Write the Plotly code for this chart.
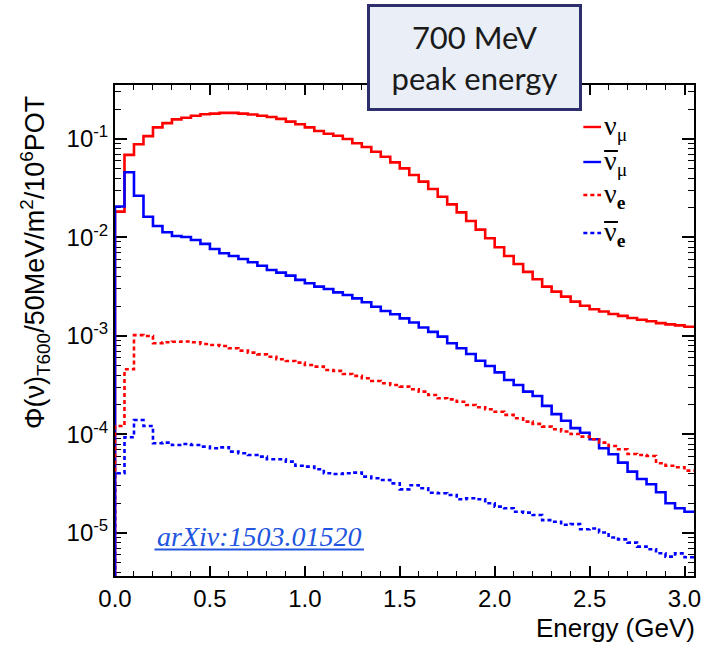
import numpy as np
import plotly.graph_objects as go

# ---------------- data (50 MeV bins, 0 - 3.05 GeV) ----------------
bin_width_gev = 0.05

nu_mu = [0.0183, 0.0689, 0.0883, 0.107, 0.131, 0.145, 0.158, 0.164, 0.172, 0.178,
         0.181, 0.184, 0.184, 0.181, 0.177, 0.172, 0.167, 0.160, 0.150, 0.141,
         0.131, 0.1205, 0.113, 0.108, 0.100, 0.0904, 0.0829, 0.0743, 0.0661, 0.0579,
         0.0503, 0.0431, 0.0369, 0.0311, 0.0259, 0.0217, 0.0180, 0.0147, 0.0120, 0.00982,
         0.00795, 0.00649, 0.00538, 0.00447, 0.00376, 0.00317, 0.00282, 0.00251, 0.00223, 0.00203,
         0.00187, 0.00177, 0.00167, 0.00160, 0.00152, 0.00146, 0.00141, 0.00135, 0.00131, 0.00128,
         0.00124]

anti_nu_mu = [0.0206, 0.0459, 0.0265, 0.01626, 0.01309, 0.01130, 0.01036, 0.01012, 0.00944, 0.00860,
              0.00764, 0.00691, 0.00649, 0.00605, 0.00560, 0.00517, 0.00468, 0.00440, 0.00410, 0.00371,
              0.00343, 0.00317, 0.00300, 0.00277, 0.00261, 0.00241, 0.00220, 0.00198, 0.00179, 0.00166,
              0.00151, 0.00137, 0.00122, 0.00110, 0.000984, 0.000843, 0.000750, 0.000656, 0.000561, 0.000496,
              0.000427, 0.000357, 0.000318, 0.000272, 0.000246, 0.000195, 0.000161, 0.000138, 0.000116, 0.000104,
              8.93e-5, 7.24e-5, 6.29e-5, 5.18e-5, 4.19e-5, 3.53e-5, 3.12e-5, 2.59e-5, 2.0e-5, 1.78e-5,
              1.64e-5]

nu_e = [1.22e-4, 4.59e-4, 1.02e-3, 1.0e-3, 8.43e-4, 8.63e-4, 8.75e-4, 8.8e-4, 8.63e-4, 8.3e-4,
        8.1e-4, 7.9e-4, 7.5e-4, 7.1e-4, 6.77e-4, 6.51e-4, 6.16e-4, 5.8e-4, 5.57e-4, 5.36e-4,
        5.08e-4, 4.88e-4, 4.52e-4, 4.42e-4, 4.11e-4, 3.93e-4, 3.72e-4, 3.49e-4, 3.31e-4, 3.18e-4,
        3.06e-4, 2.88e-4, 2.72e-4, 2.52e-4, 2.33e-4, 2.27e-4, 2.15e-4, 1.99e-4, 1.89e-4, 1.80e-4,
        1.70e-4, 1.58e-4, 1.46e-4, 1.35e-4, 1.28e-4, 1.20e-4, 1.13e-4, 1.07e-4, 1.01e-4, 9.5e-5,
        8.93e-5, 8.26e-5, 7.64e-5, 7.07e-5, 6.34e-5, 6.19e-5, 6.05e-5, 5.1e-5, 4.82e-5, 4.64e-5,
        4.29e-5]

anti_nu_e = [4.04e-5, 9.37e-5, 1.40e-4, 1.22e-4, 8.13e-5, 8.26e-5, 7.82e-5, 8.0e-5, 7.82e-5, 7.52e-5,
             7.24e-5, 7.4e-5, 6.69e-5, 6.44e-5, 6.19e-5, 5.95e-5, 5.6e-5, 5.6e-5, 5.3e-5, 4.82e-5,
             4.71e-5, 4.43e-5, 4.04e-5, 3.97e-5, 4.04e-5, 4.1e-5, 3.73e-5, 3.59e-5, 3.45e-5, 3.19e-5,
             2.77e-5, 3.05e-5, 2.84e-5, 2.56e-5, 2.53e-5, 2.43e-5, 2.2e-5, 2.25e-5, 2.2e-5, 2.0e-5,
             1.85e-5, 1.78e-5, 1.64e-5, 1.61e-5, 1.52e-5, 1.35e-5, 1.30e-5, 1.21e-5, 1.23e-5, 1.09e-5,
             1.11e-5, 1.01e-5, 9.0e-6, 8.6e-6, 7.97e-6, 7.27e-6, 6.83e-6, 6.22e-6, 5.75e-6, 6.2e-6,
             5.67e-6]

y_tick_vals = [1e-5, 1e-4, 1e-3, 1e-2, 1e-1]
y_tick_text = ["10<sup>-5</sup>", "10<sup>-4</sup>", "10<sup>-3</sup>", "10<sup>-2</sup>", "10<sup>-1</sup>"]

RED = "#ff0000"
BLUE = "#0000ff"

# ---------------- layout helpers (pixel -> paper) ----------------
W, H = 711, 645
L, R, T, B = 115, 10, 85, 69
PW, PH = W - L - R, H - T - B


def px(x):
    return (x - L) / PW


def py(y):
    return (H - B - y) / PH


edges = np.round(np.arange(len(nu_mu) + 1) * bin_width_gev, 4)
FLOOR = 1e-8


def hist_xy(vals):
    xs = [0.0] + list(edges)
    ys = [FLOOR] + list(vals) + [vals[-1]]
    return xs, ys


fig = go.Figure()
series = [
    (nu_mu, RED, "solid"),
    (anti_nu_mu, BLUE, "solid"),
    (nu_e, RED, "4px,3px"),
    (anti_nu_e, BLUE, "4px,3px"),
]
for vals, col, dash in series:
    xs, ys = hist_xy(vals)
    fig.add_trace(go.Scatter(x=xs, y=ys, mode="lines", line_shape="hv",
                             line=dict(color=col, width=2.6, dash=dash),
                             showlegend=False, hoverinfo="skip"))

fig.update_layout(
    width=W, height=H,
    margin=dict(l=L, r=R, t=T, b=B),
    paper_bgcolor="white", plot_bgcolor="white",
    font=dict(family="Liberation Sans, Arial, sans-serif", color="black"),
    showlegend=False,
)
fig.update_xaxes(
    range=[0, float(edges[-1])], showgrid=False, zeroline=False,
    showline=True, linecolor="black", linewidth=2, mirror="allticks",
    ticks="inside", ticklen=10, tickwidth=1.5, tickcolor="black",
    tick0=0, dtick=0.5, tickformat=".1f",
    minor=dict(dtick=0.1, ticks="inside", ticklen=5, tickwidth=1.2, tickcolor="black", showgrid=False),
    tickfont=dict(size=24), layer="below traces",
)
fig.update_yaxes(
    type="log", range=[-5.437, -0.452], showgrid=False, zeroline=False,
    showline=True, linecolor="black", linewidth=2, mirror="allticks",
    ticks="inside", ticklen=12, tickwidth=1.5, tickcolor="black",
    tickvals=y_tick_vals, ticktext=y_tick_text,
    minor=dict(dtick="D1", ticks="inside", ticklen=6, tickwidth=1.2, tickcolor="black", showgrid=False),
    tickfont=dict(size=24), layer="below traces",
)

annotations = []
shapes = []

# axis titles
annotations.append(dict(xref="paper", yref="paper", x=px(34), y=py(262), textangle=-90,
                        text="Φ(ν)<sub>T600</sub>/50MeV/m<sup>2</sup>/10<sup>6</sup>POT",
                        showarrow=False, font=dict(size=27), xanchor="center", yanchor="middle"))
annotations.append(dict(xref="paper", yref="paper", x=px(704), y=py(628),
                        text="Energy (GeV)", showarrow=False, font=dict(size=26),
                        xanchor="right", yanchor="middle"))

# legend (manual)
legend_items = [
    ("ν<sub>μ</sub>", RED, "solid", 127, False),
    ("ν<sub>μ</sub>", BLUE, "solid", 162, True),
    ("ν<sub><b>e</b></sub>", RED, "dot", 195, False),
    ("ν<sub><b>e</b></sub>", BLUE, "dot", 233, True),
]
for text, col, dash, yy, bar in legend_items:
    shapes.append(dict(type="line", xref="paper", yref="paper", x0=px(589), x1=px(607),
                       y0=py(yy), y1=py(yy), line=dict(color=col, width=2.4,
                                                       dash="solid" if dash == "solid" else "4px,3px")))
    annotations.append(dict(xref="paper", yref="paper", x=px(608), y=py(yy), text=text,
                            showarrow=False, xanchor="left", yanchor="middle",
                            font=dict(size=28, family="Liberation Serif, serif")))
    if bar:
        shapes.append(dict(type="line", xref="paper", yref="paper", x0=px(610), x1=px(624),
                           y0=py(yy - 11), y1=py(yy - 11), line=dict(color="black", width=2)))

# info box
annotations.append(dict(xref="paper", yref="paper", x=px(478.5), y=py(57.5),
                        text="700 MeV<br>peak energy", showarrow=False,
                        font=dict(size=31, family="Lato, Open Sans, sans-serif", color="#1a1a1a"),
                        bgcolor="#e9eef7", bordercolor="#2d2f6c", borderwidth=3, borderpad=2,
                        width=205, height=97, xanchor="center", yanchor="middle"))

# arXiv reference
ARX = "#2255e0"
annotations.append(dict(xref="paper", yref="paper", x=px(261), y=py(536),
                        text="<i>arXiv:1503.01520</i>", showarrow=False,
                        font=dict(size=28, family="Liberation Serif, serif", color=ARX),
                        xanchor="center", yanchor="middle"))
shapes.append(dict(type="line", xref="paper", yref="paper", x0=px(155), x1=px(367),
                   y0=py(549.5), y1=py(549.5), line=dict(color=ARX, width=2)))

fig.update_layout(annotations=annotations, shapes=shapes)
fig.write_html("out.html")
